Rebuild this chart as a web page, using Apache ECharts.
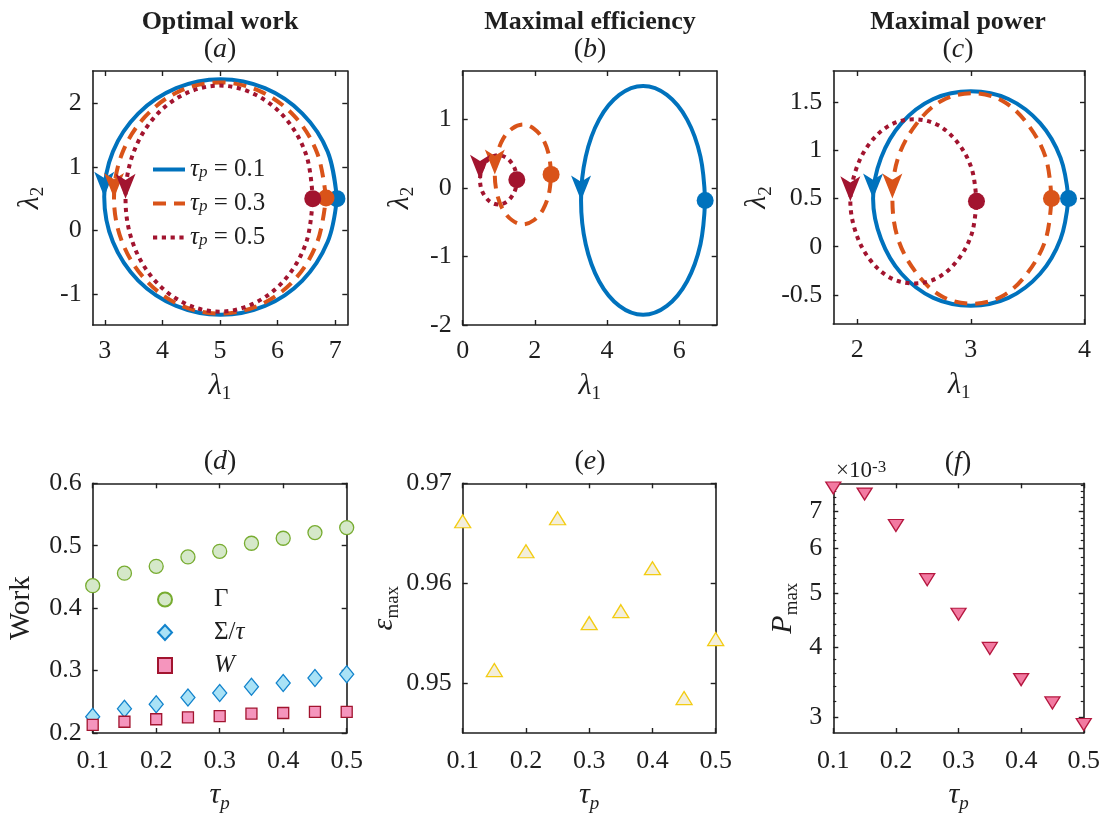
<!DOCTYPE html>
<html>
<head>
<meta charset="utf-8">
<title>Optimal cycles</title>
<script src="https://cdn.jsdelivr.net/npm/echarts@6.0.0/dist/echarts.min.js"></script>
<style>
  html, body { margin: 0; padding: 0; background: #fff; }
  #echart { width: 1103px; height: 814px; }
</style>
</head>
<body>
<div id="echart"></div>
<script>
// loops in the (lambda1, lambda2) plane.
// point 0 is the start (dot), point 8 is where the arrow sits, last point closes the loop
var workLoop01 = [[7.03,0.50],[6.87,1.24],[6.43,1.84],[5.78,2.24],[5.01,2.38],[4.24,2.24],[3.58,1.84],[3.14,1.24],[2.99,0.53],[3.14,-0.18],[3.58,-0.79],[4.24,-1.19],[5.01,-1.33],[5.78,-1.19],[6.43,-0.79],[6.87,-0.18],[7.03,0.50]];
var workLoop03 = [[6.84,0.51],[6.69,1.21],[6.30,1.79],[5.70,2.19],[5.00,2.33],[4.29,2.19],[3.70,1.79],[3.30,1.21],[3.16,0.51],[3.30,-0.18],[3.70,-0.77],[4.29,-1.17],[5.00,-1.31],[5.70,-1.17],[6.30,-0.77],[6.69,-0.18],[6.84,0.51]];
var workLoop05 = [[6.61,0.50],[6.50,1.18],[6.14,1.76],[5.61,2.14],[4.99,2.28],[4.37,2.14],[3.84,1.76],[3.48,1.18],[3.36,0.50],[3.48,-0.18],[3.84,-0.76],[4.37,-1.14],[4.99,-1.28],[5.61,-1.14],[6.14,-0.76],[6.50,-0.18],[6.61,0.50]];

var effLoop01 = [[6.72,-0.18],[6.59,0.46],[6.22,1.00],[5.66,1.36],[5.00,1.49],[4.34,1.36],[3.78,1.00],[3.41,0.46],[3.28,-0.18],[3.41,-0.82],[3.78,-1.36],[4.34,-1.72],[5.00,-1.85],[5.66,-1.72],[6.22,-1.36],[6.59,-0.82],[6.72,-0.18]];
var effLoop03 = [[2.45,0.20],[2.39,0.48],[2.22,0.72],[1.97,0.87],[1.67,0.93],[1.37,0.87],[1.12,0.72],[0.95,0.48],[0.89,0.20],[0.95,-0.08],[1.12,-0.32],[1.37,-0.47],[1.67,-0.53],[1.97,-0.47],[2.22,-0.32],[2.39,-0.08],[2.45,0.20]];
var effLoop05 = [[1.50,0.12],[1.46,0.26],[1.35,0.37],[1.19,0.45],[0.99,0.48],[0.79,0.45],[0.63,0.37],[0.52,0.26],[0.48,0.12],[0.52,-0.02],[0.63,-0.13],[0.79,-0.21],[0.99,-0.24],[1.19,-0.21],[1.35,-0.13],[1.46,-0.02],[1.50,0.12]];

var powLoop01 = [[3.86,0.50],[3.79,0.92],[3.61,1.28],[3.33,1.53],[3.00,1.61],[2.67,1.53],[2.39,1.28],[2.21,0.92],[2.14,0.50],[2.21,0.08],[2.39,-0.28],[2.67,-0.53],[3.00,-0.61],[3.33,-0.53],[3.61,-0.28],[3.79,0.08],[3.86,0.50]];
var powLoop03 = [[3.71,0.50],[3.66,0.92],[3.50,1.27],[3.28,1.51],[3.01,1.59],[2.74,1.51],[2.52,1.27],[2.36,0.92],[2.31,0.50],[2.36,0.08],[2.52,-0.27],[2.74,-0.51],[3.01,-0.59],[3.28,-0.51],[3.50,-0.27],[3.66,0.08],[3.71,0.50]];
var powLoop05 = [[3.05,0.47],[3.01,0.80],[2.89,1.07],[2.71,1.26],[2.50,1.32],[2.29,1.26],[2.11,1.07],[1.99,0.80],[1.94,0.47],[1.99,0.14],[2.11,-0.13],[2.29,-0.32],[2.50,-0.38],[2.71,-0.32],[2.89,-0.13],[3.01,0.14],[3.05,0.47]];

// bottom row, against tau_p
var tauP = [0.1, 0.15, 0.2, 0.25, 0.3, 0.35, 0.4, 0.45, 0.5];
var gammaWork = [0.436, 0.456, 0.467, 0.482, 0.491, 0.504, 0.512, 0.521, 0.529];
var sigmaTauWork = [0.226, 0.239, 0.246, 0.257, 0.264, 0.274, 0.280, 0.288, 0.294];
var wWork = [0.213, 0.218, 0.222, 0.225, 0.227, 0.231, 0.232, 0.234, 0.234];
var effMax = [0.9662, 0.9513, 0.9632, 0.9665, 0.9560, 0.9572, 0.9615, 0.9485, 0.9544];
var powerMax = [7.70e-3, 7.51e-3, 6.60e-3, 5.28e-3, 4.58e-3, 3.98e-3, 3.50e-3, 3.18e-3, 2.91e-3];

// tick values
var ticksWorkX = [3, 4, 5, 6, 7];
var ticksWorkY = [-1, 0, 1, 2];
var ticksEffX = [0, 2, 4, 6];
var ticksEffY = [-2, -1, 0, 1];
var ticksPowX = [2, 3, 4];
var ticksPowY = [-0.5, 0, 0.5, 1, 1.5];
var ticksTau = [0.1, 0.2, 0.3, 0.4, 0.5];
var ticksWork = [0.2, 0.3, 0.4, 0.5, 0.6];
var ticksEff = [0.95, 0.96, 0.97];
var ticksP = [3e-3, 4e-3, 5e-3, 6e-3, 7e-3];
var ticksPMinor = [3.2e-3, 3.4e-3, 3.6e-3, 3.8e-3, 4.2e-3, 4.4e-3, 4.6e-3, 4.8e-3, 5.2e-3, 5.4e-3, 5.6e-3, 5.8e-3, 6.2e-3, 6.4e-3, 6.6e-3, 6.8e-3, 7.2e-3, 7.4e-3, 7.6e-3, 7.8e-3];

try {
    var serif = '"Liberation Serif", "Times New Roman", serif';
    var ink = '#1f1f1f';
    var blue = '#0072bd', orange = '#d95319', wine = '#a2142f';

    var nameRich = {
        g: {fontFamily: serif, fontSize: 30, fontStyle: 'italic', lineHeight: 36, color: ink},
        w: {fontFamily: serif, fontSize: 29, lineHeight: 36, color: ink},
        s: {fontFamily: serif, fontSize: 19, fontStyle: 'italic', verticalAlign: 'bottom', color: ink},
        n: {fontFamily: serif, fontSize: 19, verticalAlign: 'bottom', color: ink}
    };
    var fmt = function (v) { return String(+(+v).toFixed(4)); };

    var grids = [
        {left: 92.7, top: 71, width: 254.6, height: 254},
        {left: 462.7, top: 71, width: 254, height: 254},
        {left: 833.3, top: 71, width: 251.7, height: 253},
        {left: 92.7, top: 483.3, width: 254, height: 253.4},
        {left: 462.7, top: 483.3, width: 253, height: 253.4},
        {left: 833.3, top: 483.3, width: 251.7, height: 252.7}
    ];

    // one labelled axis plus a mirrored one for the box ticks
    function axes(dim, gi, min, max, ticks, name, nameGap, margin, type, formatter) {
        function base(pos) {
            return {
                gridIndex: gi, type: type || 'value', min: min, max: max, position: pos,
                axisLine: {show: true, onZero: false, lineStyle: {color: ink, width: 1.6}},
                axisTick: {show: true, inside: true, length: 5, customValues: ticks, lineStyle: {color: ink, width: 1.4}},
                axisLabel: {show: false},
                splitLine: {show: false}
            };
        }
        var main = base(dim === 'x' ? 'bottom' : 'left');
        main.axisLabel = {show: true, customValues: ticks, margin: margin, fontFamily: serif, fontSize: 26, color: ink, formatter: formatter || fmt};
        main.name = name;
        main.nameLocation = 'middle';
        main.nameGap = nameGap;
        main.nameTextStyle = {rich: nameRich};
        return [main, base(dim === 'x' ? 'top' : 'right')];
    }

    var lam1 = '{g|λ}{n|1}', lam2 = '{g|λ}{n|2}', tauName = '{g|τ}{s|p}';
    var pFmt = function (v) { return String(Math.round(v * 1000)); };

    var xAxes = [].concat(
        axes('x', 0, 2.79, 7.21, ticksWorkX, lam1, 43, 13),
        axes('x', 1, 0, 7.04, ticksEffX, lam1, 43, 13),
        axes('x', 2, 1.79, 4.005, ticksPowX, lam1, 43, 13),
        axes('x', 3, 0.1, 0.5, ticksTau, tauName, 44, 15),
        axes('x', 4, 0.1, 0.5, ticksTau, tauName, 44, 15),
        axes('x', 5, 0.1, 0.5, ticksTau, tauName, 44, 15)
    );
    var yAxes = [].concat(
        axes('y', 0, -1.49, 2.51, ticksWorkY, lam2, 45, 11),
        axes('y', 1, -2, 1.71, ticksEffY, lam2, 45, 11),
        axes('y', 2, -0.8, 1.82, ticksPowY, lam2, 58, 11),
        axes('y', 3, 0.2, 0.6, ticksWork, '{w|Work}', 53, 11),
        axes('y', 4, 0.945, 0.97, ticksEff, '{g|ε}{n|max}', 60, 11),
        axes('y', 5, 2.81e-3, 7.85e-3, ticksP, '{g|P}{n|max}', 32, 11, 'log', pFmt)
    );
    // minor ticks of the log axis, both sides
    ['left', 'right'].forEach(function (pos) {
        yAxes.push({
            gridIndex: 5, type: 'log', min: 2.81e-3, max: 7.85e-3, position: pos,
            axisLine: {show: false},
            axisTick: {show: true, inside: true, length: 3, customValues: ticksPMinor, lineStyle: {color: ink, width: 1.2}},
            axisLabel: {show: false},
            splitLine: {show: false}
        });
    });

    function loop(name, pts, color, lineType, gi) {
        return {
            name: name, type: 'line', xAxisIndex: 2 * gi, yAxisIndex: 2 * gi,
            symbol: 'none', smooth: 0.35, clip: false, silent: true,
            lineStyle: {color: color, width: 4, type: lineType, cap: 'butt'},
            itemStyle: {color: color},
            emphasis: {disabled: true},
            data: pts.map(function (p, i) {
                if (i === 0) return {value: p, symbol: 'circle', symbolSize: 17};
                if (i === 8) return {value: p, symbol: 'arrow', symbolSize: [15, 25], symbolRotate: 180};
                return {value: p};
            })
        };
    }
    function dots(name, ys, gi, symbol, size, fill, edge, rotate) {
        return {
            name: name, type: 'scatter', xAxisIndex: 2 * gi, yAxisIndex: 2 * gi,
            symbol: symbol, symbolSize: size, symbolRotate: rotate || 0, clip: false, silent: true,
            itemStyle: {color: fill, borderColor: edge, borderWidth: 1.3, opacity: 1},
            emphasis: {disabled: true},
            data: tauP.map(function (t, i) { return [t, ys[i]]; })
        };
    }

    var dashed = [13, 8], dotted = [4.2, 4.6];
    var series = [
        loop('a1', workLoop01, blue, 'solid', 0),
        loop('a3', workLoop03, orange, dashed, 0),
        loop('a5', workLoop05, wine, dotted, 0),
        loop('b1', effLoop01, blue, 'solid', 1),
        loop('b3', effLoop03, orange, dashed, 1),
        loop('b5', effLoop05, wine, dotted, 1),
        loop('c1', powLoop01, blue, 'solid', 2),
        loop('c3', powLoop03, orange, dashed, 2),
        loop('c5', powLoop05, wine, dotted, 2),
        dots('Gamma', gammaWork, 3, 'circle', 14, '#d5e8c9', '#77ac30'),
        dots('SigmaTau', sigmaTauWork, 3, 'diamond', [14, 17], '#a9e2f6', '#1283cc'),
        dots('W', wWork, 3, 'rect', 11, '#f595bd', '#a2142f'),
        dots('eff', effMax, 4, 'triangle', [16, 13], '#f3eedb', '#f3cc12'),
        dots('pow', powerMax, 5, 'triangle', [15, 12], '#f27aa1', '#b5173f', 180)
    ];

    var legendNames = {
        a1: '{t|τ}{p|p}{n| = 0.1}', a3: '{t|τ}{p|p}{n| = 0.3}', a5: '{t|τ}{p|p}{n| = 0.5}',
        Gamma: '{sp|}{n|Γ}', SigmaTau: '{sp|}{n|Σ/}{t|τ}', W: '{sp|}{t|W}'
    };
    var legendRich = {
        sp: {width: 37},
        t: {fontFamily: serif, fontSize: 25, fontStyle: 'italic', lineHeight: 24, color: ink},
        p: {fontFamily: serif, fontSize: 17, fontStyle: 'italic', verticalAlign: 'bottom', color: ink},
        n: {fontFamily: serif, fontSize: 25, lineHeight: 24, color: ink}
    };
    function legendFmt(name) { return legendNames[name]; }

    var panelText = function (x, y, txt, rich) {
        return {type: 'text', x: x, y: y, silent: true,
            style: {text: txt, rich: rich, align: 'center', verticalAlign: 'middle',
                textAlign: 'center', textVerticalAlign: 'middle', fill: ink}};
    };
    var titleRich = {b: {fontFamily: serif, fontSize: 26, fontWeight: 'bold', color: ink}};
    var tagRich = {
        u: {fontFamily: serif, fontSize: 28, color: ink},
        i: {fontFamily: serif, fontSize: 28, fontStyle: 'italic', color: ink}
    };

    var chart_el = document.getElementById('echart');
    var chart = echarts.init(chart_el);
    var option = {
        animation: false,
        backgroundColor: '#ffffff',
        grid: grids,
        xAxis: xAxes,
        yAxis: yAxes,
        legend: [
            {
                data: ['a1', 'a3', 'a5'], orient: 'vertical', left: 146, top: 152,
                itemWidth: 32, itemHeight: 14, itemGap: 9, selectedMode: false,
                itemStyle: {color: 'rgba(0,0,0,0)', borderColor: 'rgba(0,0,0,0)', borderWidth: 0, opacity: 0},
                lineStyle: {width: 4},
                formatter: legendFmt, textStyle: {rich: legendRich}
            },
            {
                data: ['Gamma', 'SigmaTau', 'W'], orient: 'vertical', left: 152, top: 582,
                itemWidth: 14, itemHeight: 15, itemGap: 8, selectedMode: false,
                formatter: legendFmt, textStyle: {rich: legendRich}
            }
        ],
        series: series,
        graphic: [
            panelText(220, 22, '{b|Optimal work}', titleRich),
            panelText(590, 22, '{b|Maximal efficiency}', titleRich),
            panelText(958, 22, '{b|Maximal power}', titleRich),
            panelText(220, 50, '{u|(}{i|a}{u|)}', tagRich),
            panelText(590, 50, '{u|(}{i|b}{u|)}', tagRich),
            panelText(958, 50, '{u|(}{i|c}{u|)}', tagRich),
            panelText(220, 462, '{u|(}{i|d}{u|)}', tagRich),
            panelText(590, 462, '{u|(}{i|e}{u|)}', tagRich),
            panelText(958, 463, '{u|(}{i|f}{u|)}', tagRich),
            {type: 'text', x: 836, y: 471, silent: true,
                style: {text: '{b|×10}{e|-3}', align: 'left', verticalAlign: 'middle',
                    textAlign: 'left', textVerticalAlign: 'middle', fill: ink,
                    rich: {
                        b: {fontFamily: serif, fontSize: 23, color: ink},
                        e: {fontFamily: serif, fontSize: 17, verticalAlign: 'top', color: ink}
                    }}}
        ]
    };
    chart.setOption(option);
} catch (error) {
    console.error('Failed to draw chart');
    console.error(error);
}
</script>
</body>
</html>
